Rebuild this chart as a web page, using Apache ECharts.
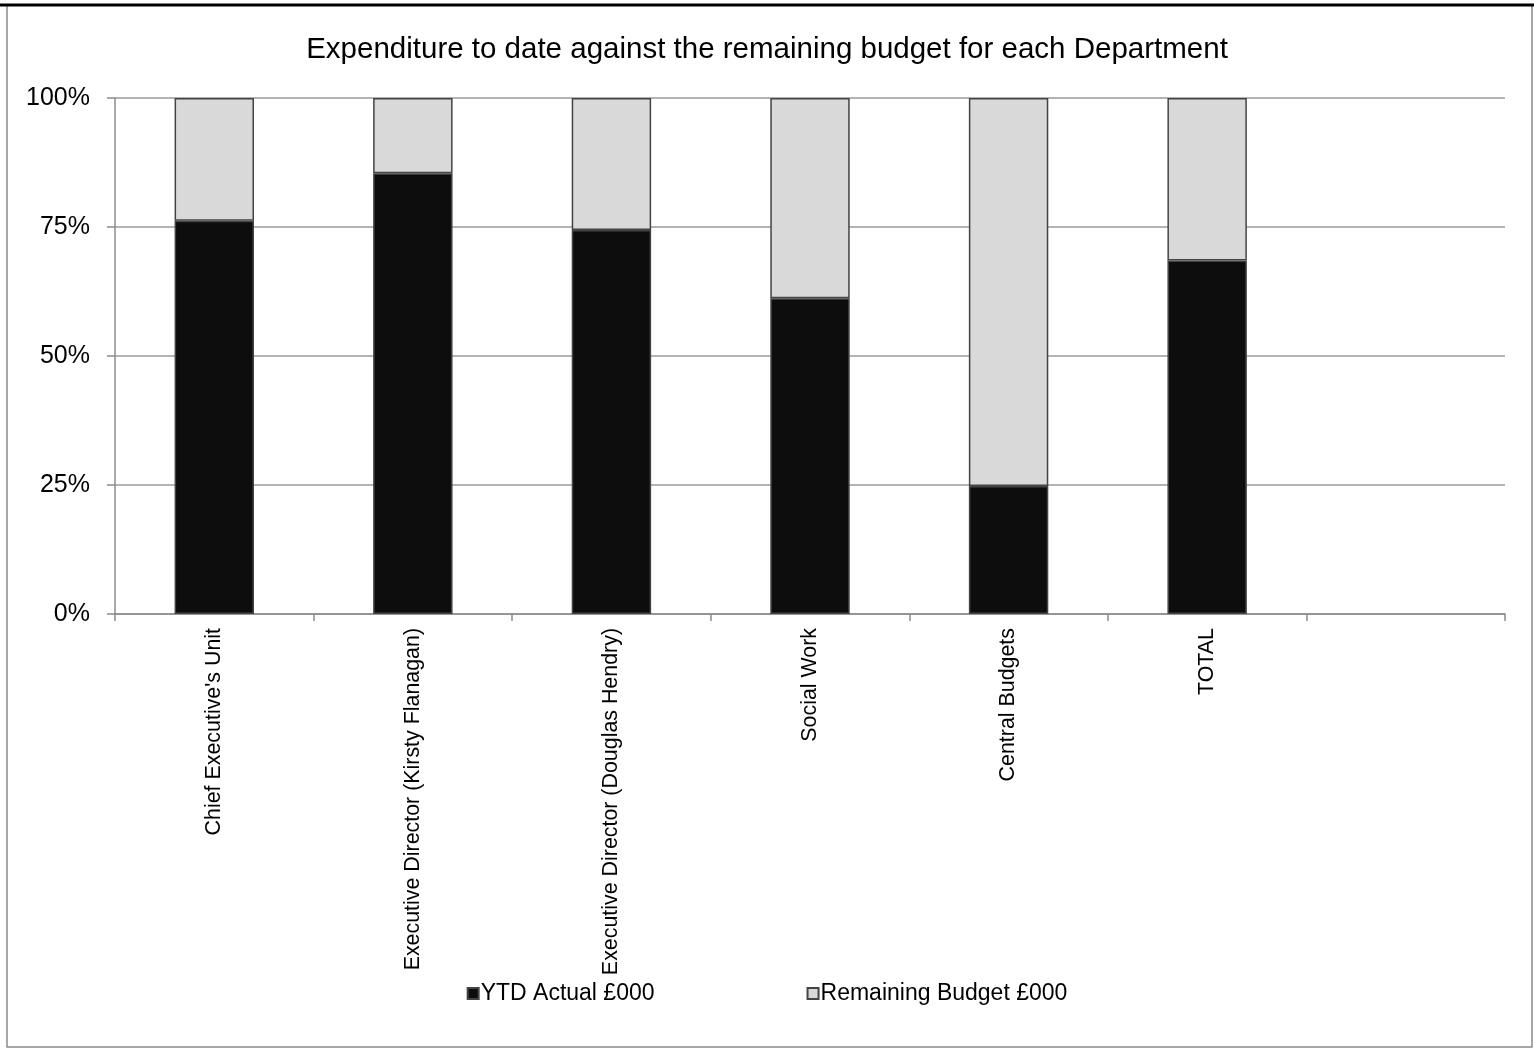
<!DOCTYPE html>
<html>
<head>
<meta charset="utf-8">
<script src="https://cdn.jsdelivr.net/npm/echarts@6/dist/echarts.min.js"></script>
<style>
  html, body { margin: 0; padding: 0; background: #fff; }
  #chart { width: 1534px; height: 1050px; }
</style>
</head>
<body>
<div id="chart"></div>
<script>
// Departments (the trailing blank slot keeps an empty category at the right)
const categories = [
  "Chief Executive's Unit",
  "Executive Director (Kirsty Flanagan)",
  "Executive Director (Douglas Hendry)",
  "Social Work",
  "Central Budgets",
  "TOTAL",
  ""
];
// Share of each department's budget, in percent
const ytdActualPct = [76.2, 85.4, 74.4, 61.2, 24.8, 68.5, null];
const remainingBudgetPct = [23.8, 14.6, 25.6, 38.8, 75.2, 31.5, null];
const yTicks = [0, 25, 50, 75, 100];

const FONT = "'Liberation Sans', Arial, sans-serif";
const axisGrey = '#8c8c8c';

const chart = echarts.init(document.getElementById('chart'), null, { renderer: 'canvas' });

chart.setOption({
  backgroundColor: '#fff',
  animation: false,
  textStyle: { fontFamily: FONT, color: '#000' },
  title: {
    text: 'Expenditure to date against the remaining budget for each Department',
    left: 'center',
    top: 30,
    textStyle: { fontFamily: FONT, fontSize: 29.5, fontWeight: 'normal', color: '#000' }
  },
  graphic: [
    { type: 'rect', shape: { x: 7, y: 5, width: 1525, height: 1042 },
      style: { fill: 'none', stroke: '#8a8a8a', lineWidth: 1.5 }, silent: true },
    { type: 'line', shape: { x1: 0, y1: 5, x2: 1534, y2: 5 },
      style: { stroke: '#000', lineWidth: 3 }, silent: true }
  ],
  grid: { left: 115, right: 29, top: 98, bottom: 436, containLabel: false },
  legend: {
    top: 977,
    left: 'center',
    itemWidth: 11,
    itemHeight: 11,
    itemGap: 152,
    icon: 'rect',
    textStyle: { fontFamily: FONT, fontSize: 23, color: '#000', padding: [0, 0, 0, -3] },
    data: ['YTD Actual £000', 'Remaining Budget £000']
  },
  xAxis: {
    type: 'category',
    data: categories,
    boundaryGap: true,
    axisLine: { lineStyle: { color: axisGrey, width: 1.5 } },
    axisTick: { show: true, alignWithLabel: false, interval: 0, length: 7, lineStyle: { color: axisGrey, width: 1.5 } },
    axisLabel: { interval: 0, rotate: 90, margin: 14, fontSize: 21.4, color: '#000', fontFamily: FONT }
  },
  yAxis: {
    type: 'value',
    min: yTicks[0],
    max: yTicks[yTicks.length - 1],
    interval: 25,
    axisLine: { show: true, lineStyle: { color: axisGrey, width: 1.5 } },
    axisTick: { show: true, length: 8, lineStyle: { color: axisGrey, width: 1.5 } },
    splitLine: { show: true, lineStyle: { color: '#9a9a9a', width: 1.5 } },
    axisLabel: { formatter: '{value}%', margin: 25, fontSize: 25, color: '#000', fontFamily: FONT }
  },
  series: [
    {
      name: 'YTD Actual £000',
      type: 'bar',
      stack: 'share',
      barWidth: '40%',
      data: ytdActualPct,
      itemStyle: { color: '#0d0d0d', borderColor: '#444', borderWidth: 1.5 }
    },
    {
      name: 'Remaining Budget £000',
      type: 'bar',
      stack: 'share',
      barWidth: '40%',
      data: remainingBudgetPct,
      itemStyle: { color: '#d9d9d9', borderColor: '#444', borderWidth: 1.5 }
    }
  ]
});
</script>
</body>
</html>
